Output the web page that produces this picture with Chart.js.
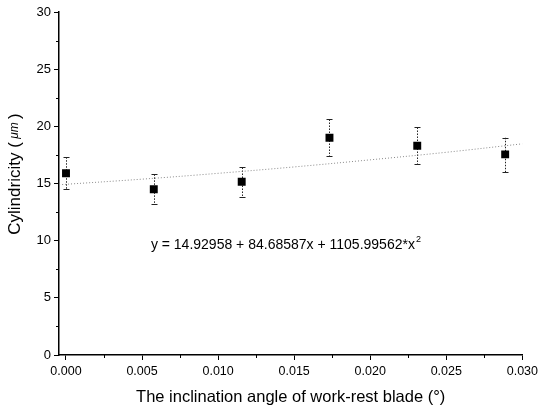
<!DOCTYPE html>
<html><head><meta charset="utf-8">
<script src="https://cdn.jsdelivr.net/npm/chart.js@4.4.1/dist/chart.umd.min.js"></script>
<style>html,body{margin:0;padding:0;background:#fff}canvas{display:block}</style>
</head><body>
<canvas id="c" width="542" height="412"></canvas>
<script>
// Data
const angles = [0.0, 0.00577, 0.01155, 0.01732, 0.02309, 0.02887];
const cylindricity = [15.9, 14.5, 15.15, 19.0, 18.3, 17.55];
const errLow = [14.5, 13.2, 13.8, 17.4, 16.7, 16.0];
const errHigh = [17.3, 15.8, 16.4, 20.6, 19.9, 19.0];
const fitX = [-0.00046, 0.005, 0.010, 0.015, 0.020, 0.025, 0.030];
const fitY = [14.89, 15.38, 15.89, 16.45, 17.07, 17.73, 18.47];
const yTicks = [0, 5, 10, 15, 20, 25, 30];
const xTicks = [0, 0.005, 0.010, 0.015, 0.020, 0.025, 0.030];
const yMinor = [2.5, 7.5, 12.5, 17.5, 22.5, 27.5];
const xMinor = [0.0025, 0.0075, 0.0125, 0.0175, 0.0225, 0.0275];
const equation = 'y = 14.92958 + 84.68587x + 1105.99562*x';
const eqPos = [0.00558, 9.6];
const yTitleParts = ['Cylindricity (', ' μm ', ')'];

const FONT = '"Liberation Sans", Arial, sans-serif';

const extras = {
  id: 'extras',
  beforeDatasetsDraw(chart) {
    const ctx = chart.ctx, xs = chart.scales.x, ys = chart.scales.y;
    ctx.save();
    ctx.strokeStyle = '#222';
    ctx.lineWidth = 1;
    for (let i = 0; i < angles.length; i++) {
      const px = Math.round(xs.getPixelForValue(angles[i])) + 0.5;
      const yl = ys.getPixelForValue(errLow[i]);
      const yh = ys.getPixelForValue(errHigh[i]);
      ctx.setLineDash([1.5, 1.5]);
      ctx.beginPath(); ctx.moveTo(px, yh); ctx.lineTo(px, yl); ctx.stroke();
      ctx.setLineDash([]);
      ctx.beginPath();
      ctx.moveTo(px - 3, Math.round(yh) + 0.5); ctx.lineTo(px + 3, Math.round(yh) + 0.5);
      ctx.moveTo(px - 3, Math.round(yl) + 0.5); ctx.lineTo(px + 3, Math.round(yl) + 0.5);
      ctx.stroke();
    }
    ctx.restore();
  },
  afterDraw(chart) {
    const ctx = chart.ctx, xs = chart.scales.x, ys = chart.scales.y;
    ctx.save();
    ctx.strokeStyle = '#000';
    ctx.lineWidth = 1;
    const x0 = xs.getPixelForValue(xs.min);
    const y0 = ys.getPixelForValue(0);
    ctx.beginPath();
    yMinor.forEach(v => { const p = Math.round(ys.getPixelForValue(v)) + 0.5; ctx.moveTo(x0 - 3, p); ctx.lineTo(x0, p); });
    xMinor.forEach(v => { const p = Math.round(xs.getPixelForValue(v)) + 0.5; ctx.moveTo(p, y0); ctx.lineTo(p, y0 + 3); });
    ctx.stroke();
    // equation
    ctx.fillStyle = '#000';
    ctx.font = '14px ' + FONT;
    ctx.textBaseline = 'middle';
    ctx.textAlign = 'left';
    const ex = xs.getPixelForValue(eqPos[0]), ey = ys.getPixelForValue(eqPos[1]);
    ctx.fillText(equation, ex, ey);
    const w = ctx.measureText(equation).width;
    ctx.font = '9px ' + FONT;
    ctx.fillText('2', ex + w + 1, ey - 6);
    // y title (rotated)
    const fonts = ['17px ' + FONT, 'italic 12px ' + FONT, '17px ' + FONT];
    let total = 0;
    const widths = yTitleParts.map((t, i) => { ctx.font = fonts[i]; const ww = ctx.measureText(t).width; total += ww; return ww; });
    ctx.translate(15, 174);
    ctx.rotate(-Math.PI / 2);
    let cx = -total / 2;
    yTitleParts.forEach((t, i) => { ctx.font = fonts[i]; ctx.fillText(t, cx, 0); cx += widths[i]; });
    ctx.restore();
  }
};

new Chart(document.getElementById('c'), {
  data: {
    datasets: [
      {
        type: 'line',
        data: fitX.map((x, i) => ({x, y: fitY[i]})),
        borderColor: '#8a8a8a',
        borderWidth: 1,
        borderDash: [1, 2],
        pointRadius: 0,
        tension: 0.4,
        fill: false
      },
      {
        type: 'scatter',
        data: angles.map((x, i) => ({x, y: cylindricity[i]})),
        pointStyle: 'rect',
        radius: 5.6,
        backgroundColor: '#000',
        borderColor: '#000',
        borderWidth: 0
      }
    ]
  },
  options: {
    responsive: false,
    animation: false,
    events: [],
    layout: {padding: {left: 0, right: 19, top: 12, bottom: 0}},
    plugins: {legend: {display: false}, tooltip: {enabled: false}},
    scales: {
      x: {
        type: 'linear',
        min: -0.00046,
        max: 0.030,
        afterBuildTicks: s => { s.ticks = xTicks.map(v => ({value: v})); },
        afterFit: s => { s.height = 57; },
        border: {display: true, color: '#000', width: 1.5},
        grid: {drawOnChartArea: false, drawTicks: true, tickLength: 5, color: '#000', lineWidth: 1},
        ticks: {color: '#000', font: {family: FONT, size: 12.5}, padding: 4, maxRotation: 0,
          callback: v => v.toFixed(3)},
        title: {display: true, text: 'The inclination angle of work-rest blade (°)', color: '#000',
          font: {family: FONT, size: 16.5}, padding: {top: 0, bottom: 5}}
      },
      y: {
        type: 'linear',
        min: 0,
        max: 30,
        afterBuildTicks: s => { s.ticks = yTicks.map(v => ({value: v})); },
        afterFit: s => { s.width = 59; },
        border: {display: true, color: '#000', width: 1.5},
        grid: {drawOnChartArea: false, drawTicks: true, tickLength: 5, color: '#000', lineWidth: 1},
        ticks: {color: '#000', font: {family: FONT, size: 13}, padding: 3}
      }
    }
  },
  plugins: [extras]
});
</script>
</body></html>
